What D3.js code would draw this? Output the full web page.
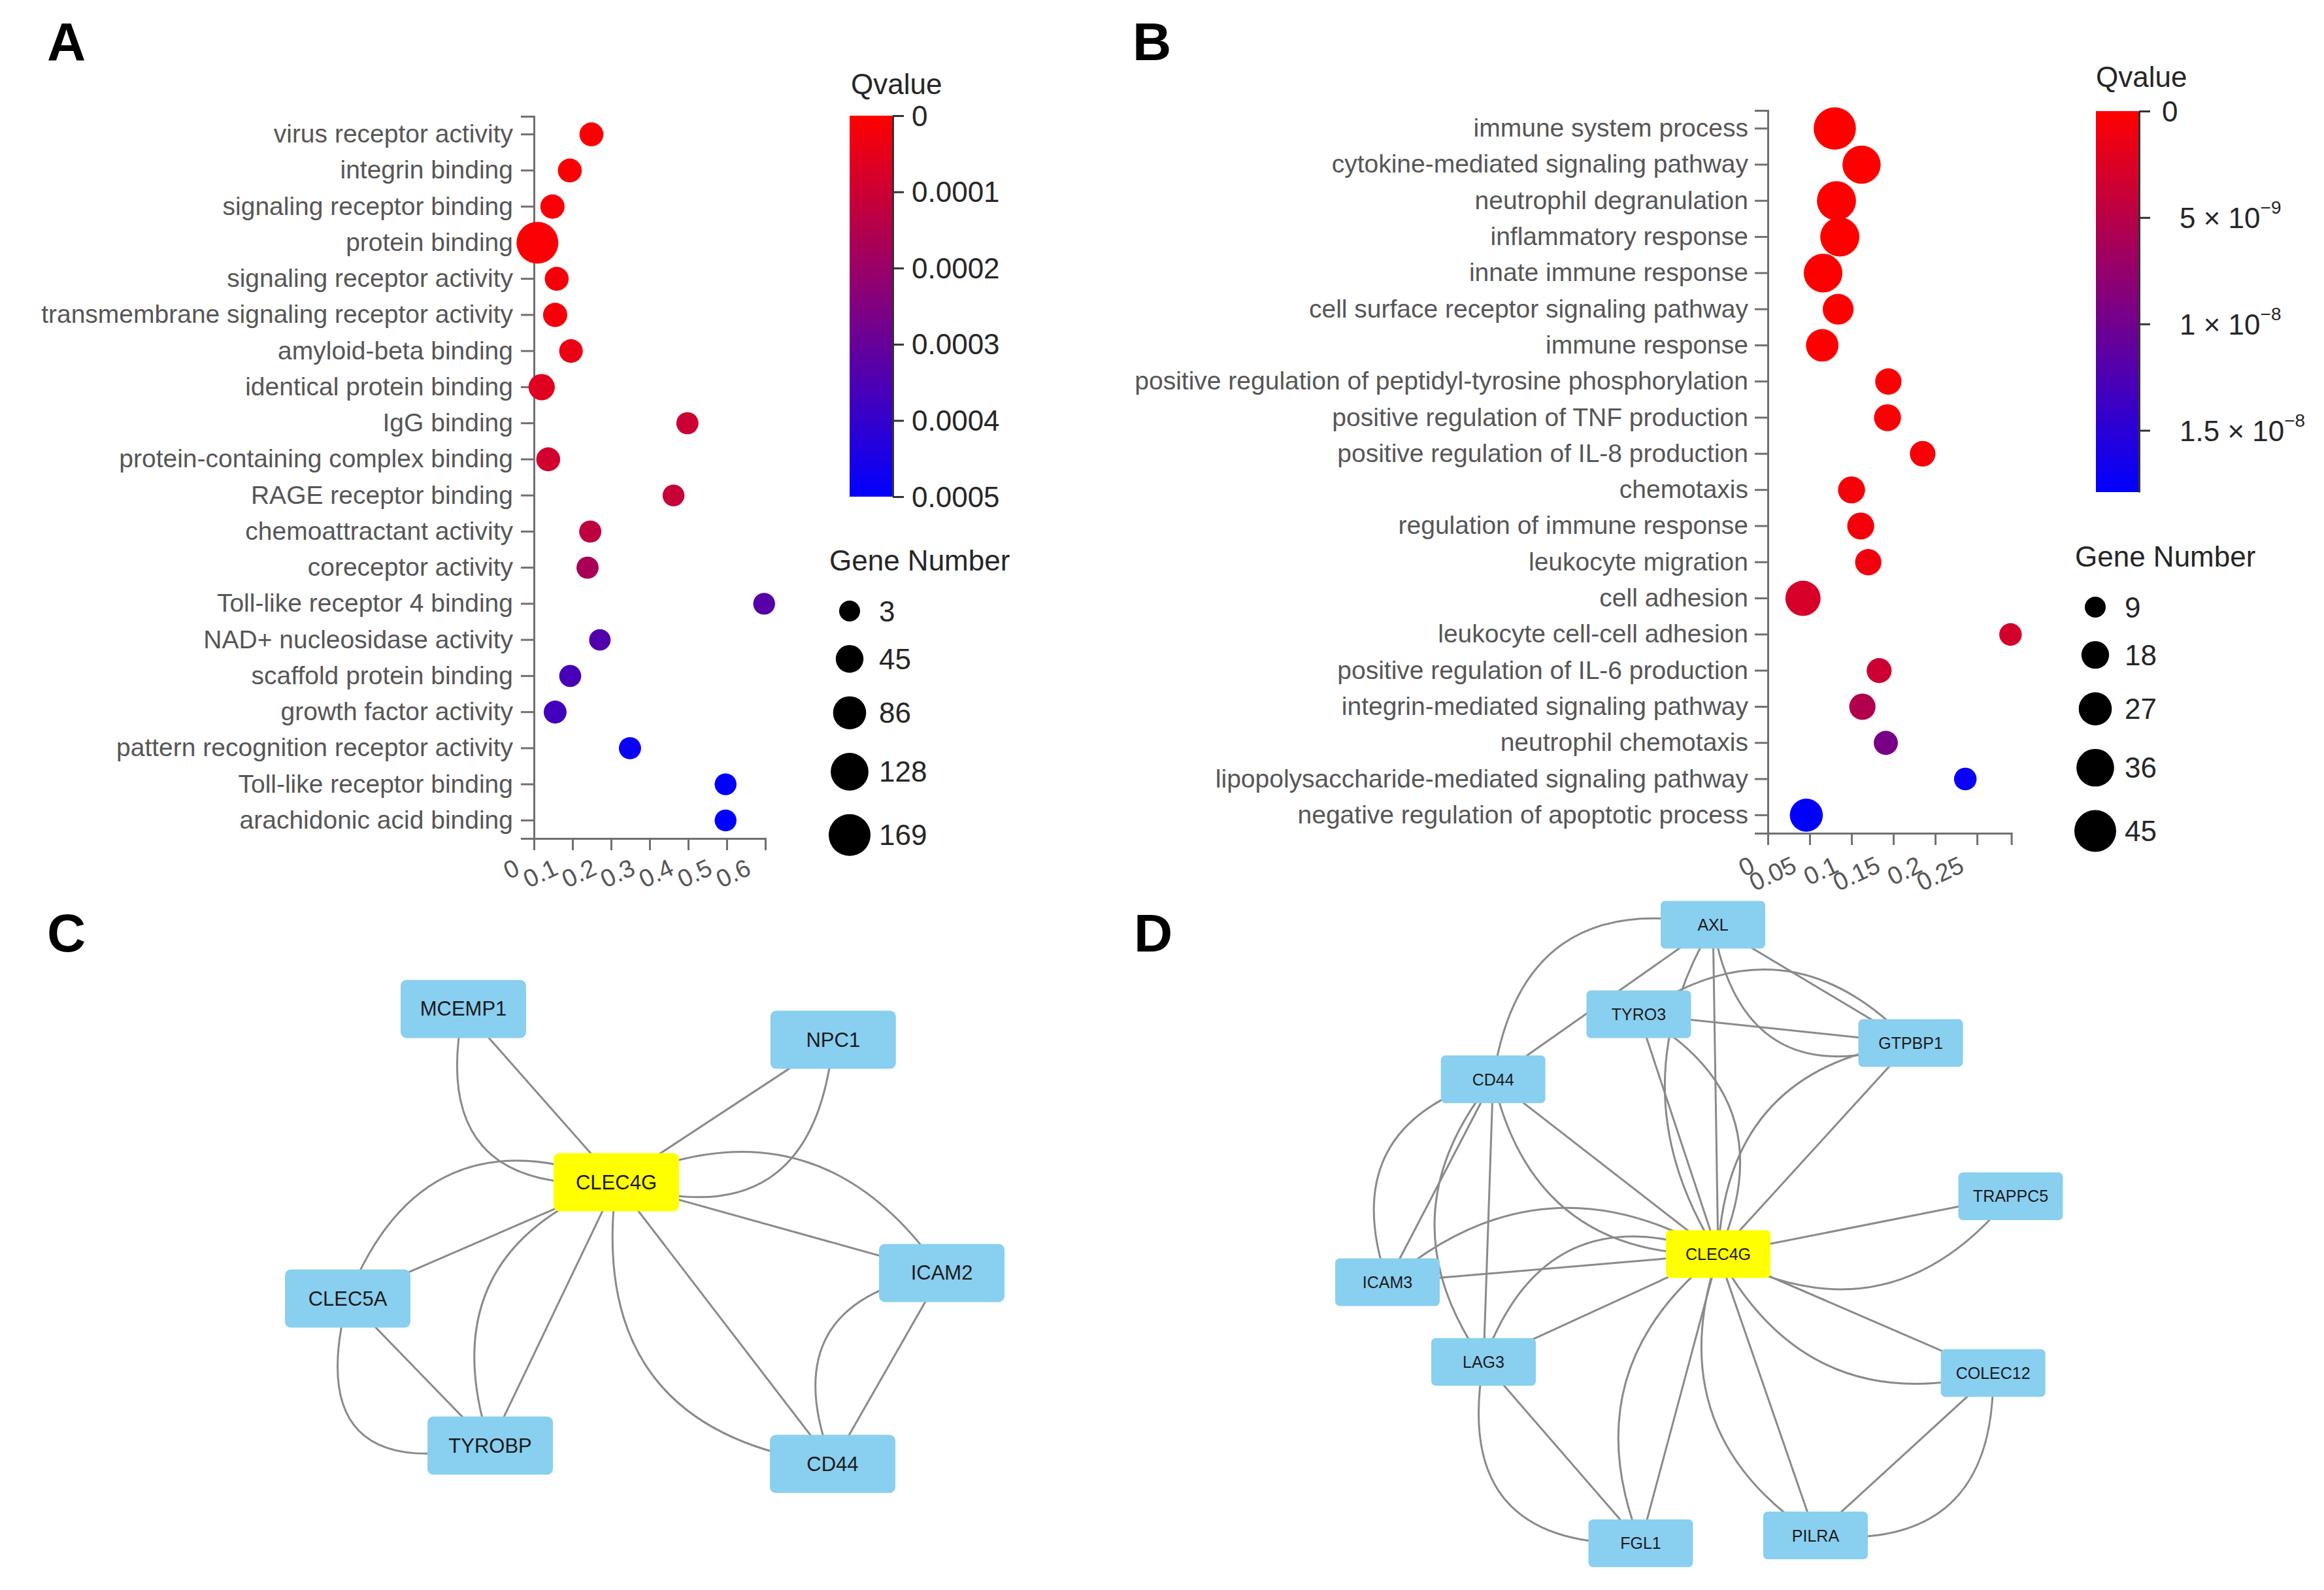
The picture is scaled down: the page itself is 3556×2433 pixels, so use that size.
<!DOCTYPE html>
<html><head><meta charset="utf-8">
<script src="https://cdn.jsdelivr.net/npm/d3@7"></script>
<style>
html,body{margin:0;padding:0;background:#fff;}
svg{display:block;font-family:"Liberation Sans",Arial,sans-serif;}
</style></head><body>
<svg id="fig" width="3556" height="2433"></svg>
<script>
// ---------------- Panel A data (GO molecular function) ----------------
const goA_terms = ["virus receptor activity","integrin binding","signaling receptor binding","protein binding","signaling receptor activity","transmembrane signaling receptor activity","amyloid-beta binding","identical protein binding","IgG binding","protein-containing complex binding","RAGE receptor binding","chemoattractant activity","coreceptor activity","Toll-like receptor 4 binding","NAD+ nucleosidase activity","scaffold protein binding","growth factor activity","pattern recognition receptor activity","Toll-like receptor binding","arachidonic acid binding"];
const goA_ratio = [0.149,0.093,0.048,0.009,0.059,0.055,0.096,0.020,0.398,0.037,0.362,0.146,0.139,0.597,0.171,0.094,0.055,0.249,0.497,0.497];
const goA_count = [20,20,22,169,20,22,18,35,10,20,8,10,10,8,6,9,14,10,8,8];
const goA_q = [0.000005,0.00001,0.000012,0.000008,0.00002,0.00002,0.00004,0.00006,0.0001,0.00009,0.00011,0.00013,0.00017,0.00033,0.00034,0.00036,0.00037,0.00048,0.0005,0.0005];
const goA_xTicks = [0,0.1,0.2,0.3,0.4,0.5,0.6];
const goA_qTicks = [0,0.0001,0.0002,0.0003,0.0004,0.0005];
const goA_qLabels = ["0","0.0001","0.0002","0.0003","0.0004","0.0005"];
const goA_sizeTicks = [3,45,86,128,169];

// ---------------- Panel B data (GO biological process) ----------------
const goB_terms = ["immune system process","cytokine-mediated signaling pathway","neutrophil degranulation","inflammatory response","innate immune response","cell surface receptor signaling pathway","immune response","positive regulation of peptidyl-tyrosine phosphorylation","positive regulation of TNF production","positive regulation of IL-8 production","chemotaxis","regulation of immune response","leukocyte migration","cell adhesion","leukocyte cell-cell adhesion","positive regulation of IL-6 production","integrin-mediated signaling pathway","neutrophil chemotaxis","lipopolysaccharide-mediated signaling pathway","negative regulation of apoptotic process"];
const goB_ratio = [0.080,0.112,0.082,0.086,0.066,0.084,0.065,0.144,0.143,0.185,0.100,0.111,0.120,0.042,0.290,0.133,0.113,0.141,0.236,0.046];
const goB_count = [46,37,39,39,38,23,26,16,17,15,17,17,16,31,11,14,16,13,11,27];
const goB_q = [2e-13,1e-12,3e-13,5e-13,4e-13,2e-11,3e-11,3e-10,3.5e-10,5e-10,6e-10,8e-10,9e-10,2.9e-9,3.1e-9,3.6e-9,5.4e-9,9.5e-9,1.72e-8,1.79e-8];
const goB_xTicks = [0,0.05,0.1,0.15,0.2,0.25];
const goB_qTicks = [0,5e-9,1e-8,1.5e-8];
const goB_qMant = ["0","5","1","1.5"];
const goB_qExp = ["","−9","−8","−8"];
const goB_sizeTicks = [9,18,27,36,45];

// ---------------- Panel C network ----------------
const netC_nodes = ["CLEC4G","MCEMP1","NPC1","CLEC5A","ICAM2","TYROBP","CD44"];
const netC_hub = "CLEC4G";
const netC_edges = [["MCEMP1","CLEC4G"],["NPC1","CLEC4G"],["CLEC4G","ICAM2"],["CLEC4G","CD44"],["ICAM2","CD44"],["CLEC4G","CLEC5A"],["CLEC4G","TYROBP"],["CLEC5A","TYROBP"]];
// layout (0-100 units) and curvature of the second, bent edge of each pair
const netC_layoutX = {CLEC4G:45.25,MCEMP1:25.75,NPC1:72.9,CLEC5A:11.0,ICAM2:86.75,TYROBP:29.17,CD44:72.83};
const netC_layoutY = {CLEC4G:39.9,MCEMP1:10.44,NPC1:15.67,CLEC5A:59.67,ICAM2:55.33,TYROBP:84.67,CD44:87.78};
const netC_bend = [0.33,-0.31,-0.21,0.25,0.31,0.25,0.24,0.41];

// ---------------- Panel D network ----------------
const netD_nodes = ["CLEC4G","AXL","TYRO3","GTPBP1","CD44","TRAPPC5","ICAM3","LAG3","COLEC12","FGL1","PILRA"];
const netD_hub = "CLEC4G";
const netD_edges = [["AXL","CD44"],["AXL","CLEC4G"],["AXL","GTPBP1"],["TYRO3","GTPBP1"],["TYRO3","CLEC4G"],["GTPBP1","CLEC4G"],["CD44","CLEC4G"],["CD44","ICAM3"],["CD44","LAG3"],["ICAM3","CLEC4G"],["LAG3","CLEC4G"],["LAG3","FGL1"],["FGL1","CLEC4G"],["PILRA","CLEC4G"],["PILRA","COLEC12"],["COLEC12","CLEC4G"],["TRAPPC5","CLEC4G"]];
const netD_layoutX = {AXL:51.75,TYRO3:42.29,GTPBP1:76.96,CD44:23.72,TRAPPC5:89.71,CLEC4G:52.42,ICAM3:10.25,LAG3:22.5,COLEC12:87.47,FGL1:42.54,PILRA:64.83};
const netD_layoutY = {AXL:5.91,TYRO3:18.36,GTPBP1:22.36,CD44:27.41,TRAPPC5:43.68,CLEC4G:51.73,ICAM3:55.64,LAG3:66.73,COLEC12:68.27,FGL1:91.95,PILRA:90.87};
const netD_bend = [0.263,0.154,0.29,-0.214,-0.227,0.21,0.204,0.263,0.19,-0.18,-0.253,0.308,-0.1875,-0.194,0.28,-0.196,-0.2076];

// ======================================================================
const svg = d3.select("#fig");
const defs = svg.append("defs");
const AXIS_COL = "#707070", LABEL_COL = "#565656", LEG_COL = "#262626";

function panelLetter(t, x, y){
  svg.append("text").attr("x",x).attr("y",y).text(t)
    .attr("font-size",82).attr("font-weight","bold").attr("fill","#000");
}

function dotPlot(c){
  const g = svg.append("g");
  const y = d3.scaleBand().domain(c.terms).range([c.top, c.bottom]);
  const x = d3.scaleLinear().domain(c.xDomain).range([c.left, c.right]);
  const color = d3.scaleLinear().domain(c.qDomain).range(["#ff0000","#0000ff"]).clamp(true);
  const area = d3.scaleLinear().domain(c.sizeDomain).range([256,1024]);
  const r = n => Math.sqrt(area(n));

  const ya = g.append("g").attr("transform",`translate(${c.left},0)`)
    .call(d3.axisLeft(y).tickSize(20).tickSizeOuter(20).tickPadding(c.pad));
  ya.selectAll("text").attr("font-size",39).attr("fill",LABEL_COL).attr("font-family","'Liberation Sans',Arial,sans-serif");

  const xa = g.append("g").attr("transform",`translate(0,${c.bottom})`)
    .call(d3.axisBottom(x).tickValues(c.xTicks).tickSize(18).tickSizeOuter(18)
      .tickFormat(d => String(+d.toFixed(2))));
  xa.selectAll("text").attr("font-size",38).attr("fill",LABEL_COL)
    .attr("font-family","'Liberation Sans',Arial,sans-serif")
    .attr("text-anchor","end").attr("x",0).attr("y",0).attr("dy",0)
    .attr("transform",`translate(${c.lblDx},${c.lblDy}) rotate(-25)`);

  [ya, xa].forEach(a => {
    a.selectAll(".domain").attr("stroke",AXIS_COL).attr("stroke-width",3);
    a.selectAll(".tick line").attr("stroke",AXIS_COL).attr("stroke-width",3);
  });

  g.append("g").selectAll("circle").data(d3.range(c.terms.length)).join("circle")
    .attr("cx", i => x(c.ratio[i]))
    .attr("cy", i => y(c.terms[i]) + y.bandwidth()/2)
    .attr("r", i => r(c.count[i]))
    .attr("fill", i => color(c.q[i]));

  // colour legend
  const gid = "grad" + c.id;
  const lg = defs.append("linearGradient").attr("id",gid).attr("x1",0).attr("y1",0).attr("x2",0).attr("y2",1);
  lg.append("stop").attr("offset","0%").attr("stop-color","#ff0000");
  lg.append("stop").attr("offset","50%").attr("stop-color","#800080");
  lg.append("stop").attr("offset","100%").attr("stop-color","#0000ff");
  const L = c.legend;
  g.append("text").attr("x",L.titleX).attr("y",L.titleY).text("Qvalue")
    .attr("font-size",44).attr("fill",LEG_COL);
  g.append("rect").attr("x",L.barX).attr("y",L.barTop).attr("width",66).attr("height",L.barH)
    .attr("fill",`url(#${gid})`);
  const qs = d3.scaleLinear().domain(c.qDomain).range([L.barTop, L.barTop + L.barH]);
  const qa = g.append("g").attr("transform",`translate(${L.barX+66},0)`)
    .call(d3.axisRight(qs).tickValues(c.qTicks).tickSize(17).tickSizeOuter(0).tickFormat(""));
  qa.selectAll(".domain").attr("stroke","#333").attr("stroke-width",3);
  qa.selectAll(".tick line").attr("stroke","#333").attr("stroke-width",3);
  c.qTicks.forEach((v,i) => {
    const t = g.append("text").attr("y", qs(v)).attr("dominant-baseline","central")
      .attr("font-size",44).attr("fill",LEG_COL);
    if (c.qExp) {
      t.attr("x", L.barX + 66 + (i === 0 ? 35 : 62));
      if (i === 0) t.text(c.qMant[i]);
      else {
        t.append("tspan").text(c.qMant[i] + " \u00d7 10");
        t.append("tspan").text(c.qExp[i]).attr("font-size",28).attr("dy",-16);
      }
    } else {
      t.attr("x", L.barX + 66 + 29).text(c.qLabels[i]);
    }
  });

  // size legend
  g.append("text").attr("x",L.sizeX - 31).attr("y",L.sizeTitleY).text("Gene Number")
    .attr("font-size",44).attr("fill",LEG_COL);
  let cy = L.sizeTitleY + 62, prev = null;
  c.sizeTicks.forEach(n => {
    const rr = r(n);
    if (prev !== null) cy += prev + rr + 36;
    prev = rr;
    g.append("circle").attr("cx",L.sizeX).attr("cy",cy).attr("r",rr).attr("fill","#000");
    g.append("text").attr("x",L.sizeX + 45).attr("y",cy).attr("dominant-baseline","central")
      .text(n).attr("font-size",44).attr("fill",LEG_COL);
  });
}

function network(c){
  const g = svg.append("g");
  const xs = d3.scaleLinear().domain([0,100]).range(c.xRange);
  const ys = d3.scaleLinear().domain([0,100]).range(c.yRange);
  const P = n => [xs(c.lx[n]), ys(c.ly[n])];
  const eg = g.append("g").attr("fill","none").attr("stroke","#8a8a8a").attr("stroke-width",3);
  c.edges.forEach((e,i) => {
    const [x1,y1] = P(e[0]), [x2,y2] = P(e[1]);
    const dx = x2-x1, dy = y2-y1, len = Math.hypot(dx,dy);
    const nx = -dy/len, ny = dx/len;
    const k = 2*c.bend[i]*len;
    const cx = (x1+x2)/2 + nx*k, cy = (y1+y2)/2 + ny*k;
    const p1 = d3.path(); p1.moveTo(x1,y1); p1.lineTo(x2,y2);
    const p2 = d3.path(); p2.moveTo(x1,y1); p2.quadraticCurveTo(cx,cy,x2,y2);
    eg.append("path").attr("d",p1.toString());
    eg.append("path").attr("d",p2.toString());
  });
  const ng = g.append("g").selectAll("g").data(c.nodes).join("g")
    .attr("transform", n => `translate(${P(n)[0]},${P(n)[1]})`);
  ng.append("rect").attr("x",-c.w/2).attr("y",-c.h/2).attr("width",c.w).attr("height",c.h)
    .attr("rx",c.rx).attr("fill", n => n === c.hub ? "#ffff00" : "#89cff0");
  ng.append("text").text(n => n).attr("text-anchor","middle").attr("dominant-baseline","central")
    .attr("font-size",c.fs).attr("fill","#1a1a1a");
}

// ---------- draw ----------
panelLetter("A",72,92);
panelLetter("B",1733,92);
panelLetter("C",72,1456);
panelLetter("D",1735,1456);

dotPlot({id:"A", terms:goA_terms, ratio:goA_ratio, count:goA_count, q:goA_q,
  xDomain:[0,0.6], xTicks:goA_xTicks, qDomain:[0,0.0005], qTicks:goA_qTicks, qLabels:goA_qLabels,
  sizeDomain:[3,169], sizeTicks:goA_sizeTicks,
  left:817, right:1171, top:178, bottom:1283, pad:12, lblDx:-20, lblDy:54,
  legend:{titleX:1302, titleY:144, barX:1300, barTop:177, barH:583, sizeX:1300, sizeTitleY:873}});

dotPlot({id:"B", terms:goB_terms, ratio:goB_ratio, count:goB_count, q:goB_q,
  xDomain:[0,0.291], xTicks:goB_xTicks, qDomain:[0,1.79e-8], qTicks:goB_qTicks,
  qMant:goB_qMant, qExp:goB_qExp,
  sizeDomain:[9,45], sizeTicks:goB_sizeTicks,
  left:2705, right:3077.6, top:169, bottom:1275, pad:10, lblDx:-18, lblDy:58,
  legend:{titleX:3207, titleY:133, barX:3207, barTop:170, barH:583, sizeX:3206, sizeTitleY:867}});

network({nodes:netC_nodes, hub:netC_hub, edges:netC_edges, bend:netC_bend,
  lx:netC_layoutX, ly:netC_layoutY, xRange:[400,1600], yRange:[1450,2350],
  w:192, h:89, rx:9, fs:31});

network({nodes:netD_nodes, hub:netD_hub, edges:netD_edges, bend:netD_bend,
  lx:netD_layoutX, ly:netD_layoutY, xRange:[2000,3200], yRange:[1350,2450],
  w:160, h:73, rx:7, fs:25});
</script>
</body></html>
